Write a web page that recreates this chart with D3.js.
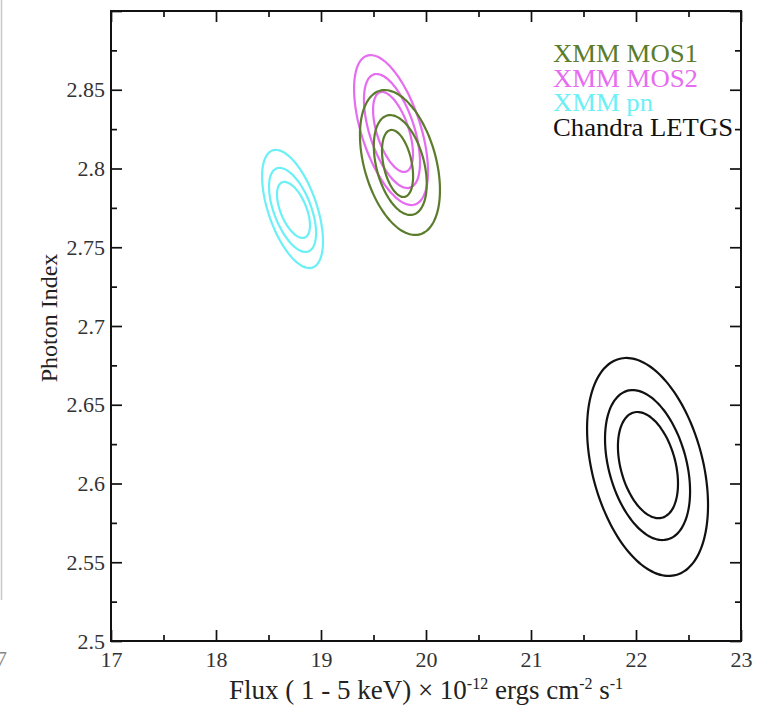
<!DOCTYPE html>
<html>
<head>
<meta charset="utf-8">
<script src="https://cdn.jsdelivr.net/npm/d3@7"></script>
<style>
body { margin: 0; background: #fff; }
svg { display: block; font-family: "Liberation Serif", "DejaVu Serif", serif; }
.axis path { display: none; }
.axis line { stroke: #111; stroke-width: 1.7; }
.axis text { font-family: "Liberation Serif", "DejaVu Serif", serif; font-size: 22px; fill: #333; }
</style>
</head>
<body>
<script>
// axis ticks
var xTicks = [17, 18, 19, 20, 21, 22, 23];
var xMinor = [17.5, 18.5, 19.5, 20.5, 21.5, 22.5];
var yTicks = [2.5, 2.55, 2.6, 2.65, 2.7, 2.75, 2.8, 2.85, 2.9];
var yLabels = ["2.5", "2.55", "2.6", "2.65", "2.7", "2.75", "2.8", "2.85", ""];
var yMinor = [2.525, 2.575, 2.625, 2.675, 2.725, 2.775, 2.825, 2.875];

var legendNames = ["XMM MOS1", "XMM MOS2", "XMM pn", "Chandra LETGS"];
var legendColors = ["#5b7c2c", "#e66cf0", "#6cf0f6", "#111111"];

// confidence contours, each row: [flux centre, index centre, half width (flux), half height (index), tilt]
var mos1 = [
    [19.752, 2.8038, 0.381, 0.0460, -0.38],
    [19.755, 2.8022, 0.252, 0.0317, -0.38],
    [19.729, 2.8032, 0.148, 0.0213, -0.38]
];
var mos2 = [
    [19.667, 2.8244, 0.352, 0.0476, -0.55],
    [19.676, 2.8238, 0.267, 0.0362, -0.55],
    [19.686, 2.8232, 0.190, 0.0254, -0.55]
];
var pn = [
    [18.729, 2.7743, 0.290, 0.0375, -0.55],
    [18.729, 2.7737, 0.224, 0.0267, -0.55],
    [18.738, 2.7737, 0.157, 0.0178, -0.55]
];
var letgs = [
    [22.110, 2.6105, 0.576, 0.0692, -0.35],
    [22.110, 2.6117, 0.405, 0.0476, -0.35],
    [22.114, 2.6117, 0.286, 0.0337, -0.35]
];

// legend text widths in the original (its type is a little stretched)
var legendWidths = [145, 145, 100, 180];

var margin = {top: 11, right: 24, bottom: 72, left: 111},
    width = 765 - margin.left - margin.right,
    height = 713 - margin.top - margin.bottom;

var x = d3.scaleLinear().domain([17, 23]).range([0, width]);
var y = d3.scaleLinear().domain([2.5, 2.9]).range([height, 0]);

var svg = d3.select("body").append("svg")
    .attr("width", 765)
    .attr("height", 713);

// edge of the neighbouring panel in the original page
svg.append("line")
    .attr("x1", 1.5).attr("x2", 1.5).attr("y1", 0).attr("y2", 600)
    .style("stroke", "#c8c8c8").style("stroke-width", 1.5);
svg.append("text")
    .attr("x", 7).attr("y", 666)
    .attr("text-anchor", "end")
    .style("font-size", "22px").style("fill", "#888")
    .text("17");

var group = svg.append("g")
    .attr("transform", "translate(" + margin.left + "," + margin.top + ")");

// contours
var line = d3.line().curve(d3.curveCardinalClosed);

function contourPath(c) {
    var pts = d3.range(0, 360, 4).map(function(deg) {
        var t = deg * Math.PI / 180;
        var fx = c[0] + c[2] * Math.cos(t);
        var fy = c[1] + c[3] * (c[4] * Math.cos(t) + Math.sqrt(1 - c[4] * c[4]) * Math.sin(t));
        return [x(fx), y(fy)];
    });
    return line(pts);
}

[[pn, 2], [mos2, 1], [mos1, 0], [letgs, 3]].forEach(function(s) {
    group.append("g").selectAll("path")
        .data(s[0])
        .enter().append("path")
        .attr("d", contourPath)
        .style("fill", "none")
        .style("stroke", legendColors[s[1]])
        .style("stroke-width", 2.2);
});

// axes, ticks pointing inward on all four sides
group.append("g").attr("class", "axis")
    .attr("transform", "translate(0," + height + ")")
    .call(d3.axisBottom(x).tickValues(xTicks).tickSize(-11).tickPadding(10).tickFormat(d3.format("d")));
group.append("g").attr("class", "axis")
    .attr("transform", "translate(0," + height + ")")
    .call(d3.axisBottom(x).tickValues(xMinor).tickSize(-6).tickFormat(""));
group.append("g").attr("class", "axis")
    .call(d3.axisTop(x).tickValues(xTicks).tickSize(-11).tickFormat(""));
group.append("g").attr("class", "axis")
    .call(d3.axisTop(x).tickValues(xMinor).tickSize(-6).tickFormat(""));

group.append("g").attr("class", "axis")
    .call(d3.axisLeft(y).tickValues(yTicks).tickSize(-11).tickPadding(6)
        .tickFormat(function(d, i) { return yLabels[i]; }));
group.append("g").attr("class", "axis")
    .call(d3.axisLeft(y).tickValues(yMinor).tickSize(-6).tickFormat(""));
group.append("g").attr("class", "axis")
    .attr("transform", "translate(" + width + ",0)")
    .call(d3.axisRight(y).tickValues(yTicks).tickSize(-11).tickFormat(""));
group.append("g").attr("class", "axis")
    .attr("transform", "translate(" + width + ",0)")
    .call(d3.axisRight(y).tickValues(yMinor).tickSize(-6).tickFormat(""));

group.append("rect")
    .attr("width", width)
    .attr("height", height)
    .style("fill", "none")
    .style("stroke", "#111")
    .style("stroke-width", 2);

// legend
group.selectAll(".legend")
    .data(legendNames)
    .enter().append("text")
    .attr("class", "legend")
    .attr("x", 442)
    .attr("y", function(d, i) { return 51 + i * 24.5; })
    .attr("textLength", function(d, i) { return legendWidths[i]; })
    .attr("lengthAdjust", "spacingAndGlyphs")
    .style("font-size", "25px")
    .style("fill", function(d, i) { return legendColors[i]; })
    .text(function(d) { return d; });

// axis titles
var xt = group.append("text")
    .attr("x", width / 2)
    .attr("y", 688)
    .attr("text-anchor", "middle")
    .style("font-size", "27px")
    .style("fill", "#222");
xt.append("tspan").text("Flux ( 1 - 5 keV) \u00d7 10");
xt.append("tspan").attr("dy", -10).style("font-size", "16px").text("-12");
xt.append("tspan").attr("dy", 10).text(" ergs cm");
xt.append("tspan").attr("dy", -10).style("font-size", "16px").text("-2");
xt.append("tspan").attr("dy", 10).text(" s");
xt.append("tspan").attr("dy", -10).style("font-size", "16px").text("-1");

group.append("text")
    .attr("transform", "translate(" + (57 - margin.left) + "," + (318 - margin.top) + ") rotate(-90)")
    .attr("text-anchor", "middle")
    .style("font-size", "24px")
    .style("fill", "#222")
    .text("Photon Index");
</script>
</body>
</html>
